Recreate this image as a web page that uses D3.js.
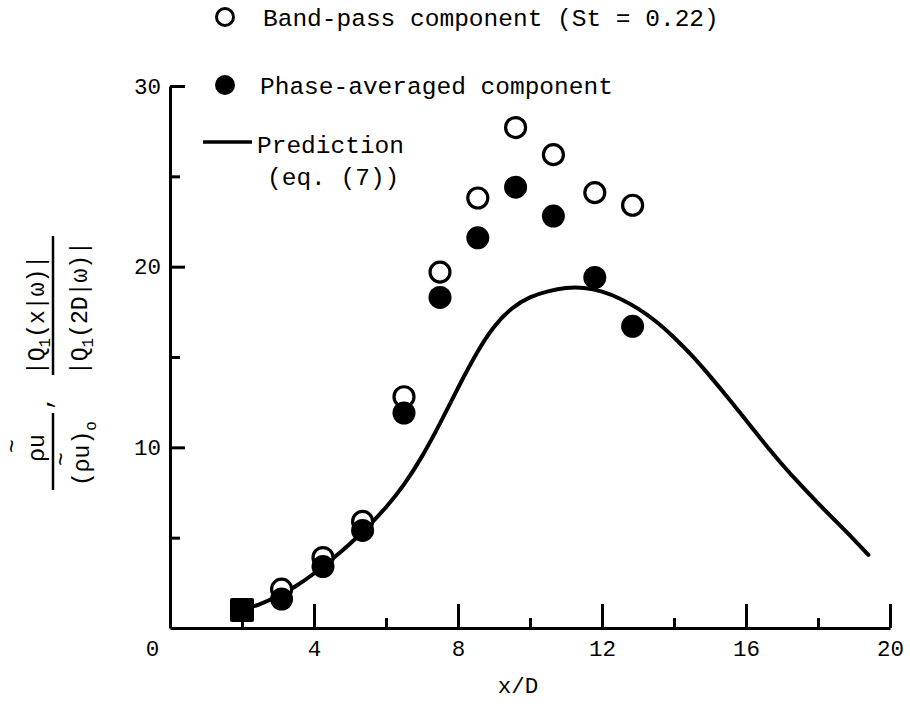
<!DOCTYPE html>
<html>
<head>
<meta charset="utf-8">
<script src="https://cdn.jsdelivr.net/npm/d3@7"></script>
<style>
  body { margin: 0; background: #fff; }
  svg { display: block; }
</style>
</head>
<body>
<div id="chart"></div>
<script>
// measured stations x/D
const stations = [2, 3.1, 4.25, 5.35, 6.5, 7.5, 8.55, 9.6, 10.65, 11.8, 12.85];
// band-pass component (St = 0.22), open circles
const bandPass = [1.0, 2.15, 3.9, 5.9, 12.8, 19.7, 23.8, 27.7, 26.2, 24.1, 23.4];
// phase-averaged component, filled circles
const phaseAvg = [1.0, 1.6, 3.4, 5.4, 11.9, 18.3, 21.6, 24.4, 22.8, 19.4, 16.7];

// prediction, eq. (7)
const predX = [2, 2.5, 3, 3.5, 4, 4.5, 5, 5.5, 6, 6.5, 7, 7.5, 8, 8.5, 9, 9.5, 10, 10.5, 11, 11.5,
  12, 12.5, 13, 13.5, 14, 14.5, 15, 15.5, 16, 16.5, 17, 17.5, 18, 18.5, 19, 19.4];
const predY = [1.0, 1.3, 1.75, 2.3, 3.0, 3.8, 4.65, 5.6, 6.65, 7.9, 9.45, 11.3, 13.3, 15.2, 16.75, 17.75,
  18.35, 18.65, 18.85, 18.85, 18.65, 18.25, 17.7, 17.0, 16.1, 15.1, 13.95, 12.75, 11.5, 10.25,
  9.05, 7.95, 6.9, 5.9, 4.9, 4.05];

const xMajor = [0, 4, 8, 12, 16, 20];
const xMinor = [2, 6, 10, 14, 18];
const yMajor = [10, 20, 30];
const yMinor = [5, 15, 25];

const width = 910, height = 709;
const font = "'Liberation Mono', 'DejaVu Sans Mono', monospace";

const x = d3.scaleLinear().domain([0, 20]).range([170, 890]);
const y = d3.scaleLinear().domain([0, 30]).range([628, 86]);

const svg = d3.select("#chart").append("svg")
  .attr("width", width)
  .attr("height", height)
  .attr("viewBox", [0, 0, width, height]);

// x axis, ticks pointing inward
const xg = svg.append("g")
  .attr("transform", `translate(0,${y(0)})`)
  .call(d3.axisBottom(x).tickValues(xMajor).tickSize(-24).tickSizeOuter(0).tickPadding(12)
    .tickFormat(d3.format("d")));
xg.append("g")
  .call(d3.axisBottom(x).tickValues(xMinor).tickSize(-10).tickFormat(""))
  .call(g => g.select(".domain").remove());
xg.selectAll(".tick").filter(d => d === 0).select("line").remove();
xg.selectAll(".tick").filter(d => d === 0).select("text").attr("x", -18);

// y axis
const yg = svg.append("g")
  .attr("transform", `translate(${x(0)},0)`)
  .call(d3.axisLeft(y).tickValues(yMajor).tickSize(-15).tickSizeOuter(0).tickPadding(9));
yg.append("g")
  .call(d3.axisLeft(y).tickValues(yMinor).tickSize(-10).tickFormat(""))
  .call(g => g.select(".domain").remove());

svg.selectAll(".domain, .tick line")
  .attr("stroke", "#000")
  .attr("stroke-width", 3);
svg.selectAll(".tick text")
  .attr("fill", "#000")
  .style("font-family", font)
  .style("font-size", "22.5px");

// x label
svg.append("text")
  .attr("x", 518)
  .attr("y", 685)
  .attr("dy", "0.35em")
  .attr("text-anchor", "middle")
  .style("font-family", font)
  .style("font-size", "22.5px")
  .text("x/D");

// y label, rotated
const yl = svg.append("g")
  .attr("transform", "translate(53,490) rotate(-90)")
  .style("font-family", font)
  .style("font-size", "23px");
yl.append("line").attr("x1", 0).attr("x2", 77).attr("y1", 0).attr("y2", 0)
  .attr("stroke", "#000").attr("stroke-width", 2.5);
yl.append("text").attr("x", 42).attr("y", -9).attr("text-anchor", "middle").text("ρu");
yl.append("text").attr("x", 44).attr("y", -33).attr("text-anchor", "middle").text("~");
yl.append("text").attr("x", 4).attr("y", 36).text("(ρu)")
  .append("tspan").attr("dy", 7).style("font-size", "16px").text("o");
yl.append("text").attr("x", 31).attr("y", 16).attr("text-anchor", "middle").text("~");
yl.append("text").attr("x", 80).attr("y", -2).text(",");
yl.append("line").attr("x1", 115).attr("x2", 254).attr("y1", 0).attr("y2", 0)
  .attr("stroke", "#000").attr("stroke-width", 2.5);
const qn = yl.append("text").attr("x", 115).attr("y", -9);
qn.append("tspan").text("|Q");
qn.append("tspan").attr("dy", 6).style("font-size", "16px").text("1");
qn.append("tspan").attr("dy", -6).text("(x|ω)|");
const qd = yl.append("text").attr("x", 115).attr("y", 34);
qd.append("tspan").text("|Q");
qd.append("tspan").attr("dy", 6).style("font-size", "16px").text("1");
qd.append("tspan").attr("dy", -6).text("(2D|ω)|");

// prediction curve
const pred = predX.map((v, i) => [v, predY[i]]);
svg.append("path")
  .datum(pred)
  .attr("fill", "none")
  .attr("stroke", "#000")
  .attr("stroke-width", 4)
  .attr("stroke-linecap", "round")
  .attr("d", d3.line().x(d => x(d[0])).y(d => y(d[1])).curve(d3.curveBasis));

// band-pass, open circles
svg.append("g").selectAll("circle")
  .data(stations.map((v, i) => [v, bandPass[i]]))
  .join("circle")
  .attr("cx", d => x(d[0]))
  .attr("cy", d => y(d[1]))
  .attr("r", 10)
  .attr("fill", "#fff")
  .attr("stroke", "#000")
  .attr("stroke-width", 3.2);

// phase-averaged, filled circles (first station drawn as square where both coincide)
const pa = stations.map((v, i) => [v, phaseAvg[i]]);
svg.append("g").selectAll("circle")
  .data(pa.slice(1))
  .join("circle")
  .attr("cx", d => x(d[0]))
  .attr("cy", d => y(d[1]))
  .attr("r", 11.5)
  .attr("fill", "#000");
svg.append("rect")
  .datum(pa[0])
  .attr("x", d => x(d[0]) - 12)
  .attr("y", d => y(d[1]) - 12)
  .attr("width", 24)
  .attr("height", 24)
  .attr("rx", 2)
  .attr("fill", "#000");

// legend
const lg = svg.append("g")
  .style("font-family", font)
  .style("font-size", "24.5px");
lg.append("circle").attr("cx", 225).attr("cy", 17).attr("r", 8.5)
  .attr("fill", "none").attr("stroke", "#000").attr("stroke-width", 3);
lg.append("text").attr("x", 263).attr("y", 17).attr("dy", "0.35em")
  .text("Band-pass component (St = 0.22)");
lg.append("circle").attr("cx", 225).attr("cy", 85).attr("r", 10).attr("fill", "#000");
lg.append("text").attr("x", 260).attr("y", 85).attr("dy", "0.35em")
  .text("Phase-averaged component");
lg.append("line").attr("x1", 203).attr("x2", 252).attr("y1", 142).attr("y2", 142)
  .attr("stroke", "#000").attr("stroke-width", 3.5);
lg.append("text").attr("x", 257).attr("y", 144).attr("dy", "0.35em").text("Prediction");
lg.append("text").attr("x", 267).attr("y", 176).attr("dy", "0.35em").text("(eq. (7))");
</script>
</body>
</html>
